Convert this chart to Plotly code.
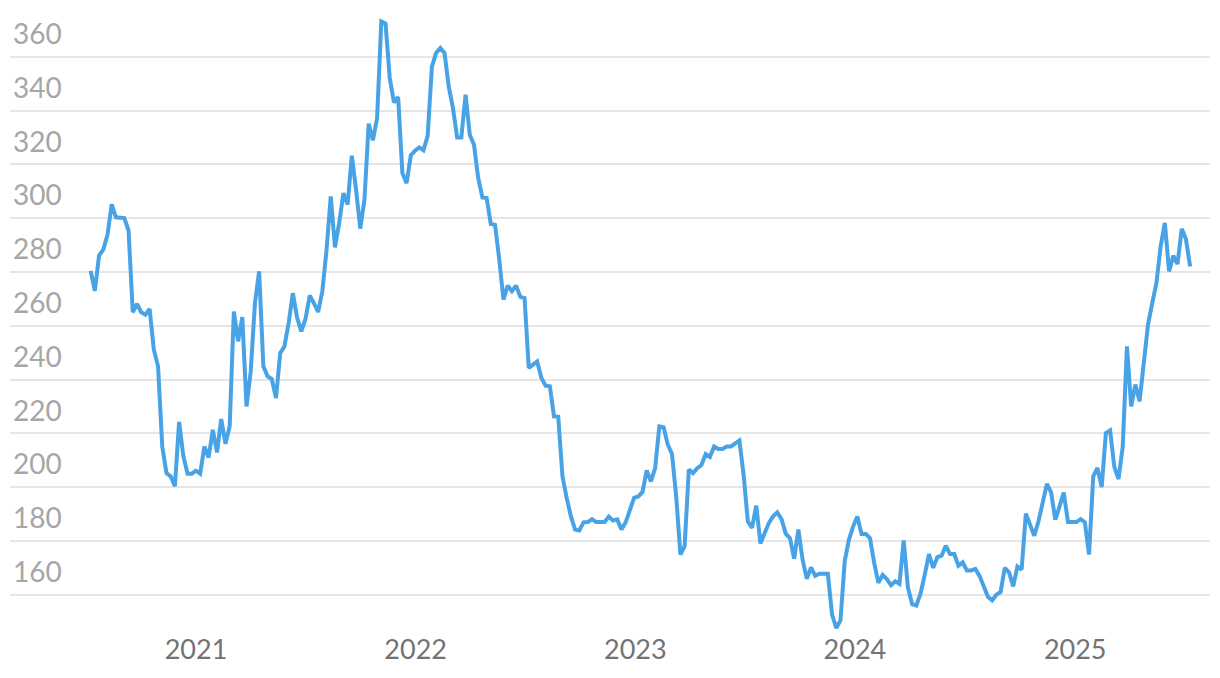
import pandas as pd
import plotly.graph_objects as go

start_date = "2020-07-10"
values = [
    280.4, 273.0, 286.1, 288.3, 293.8, 305.1, 300.3, 300.1, 300.0, 295.4,
    265.0, 268.1, 265.0, 264.1, 266.2, 251.1, 244.9, 215.1, 205.2, 204.0,
    200.3, 224.2, 211.6, 205.0, 205.0, 206.1, 205.0, 215.1, 211.0, 221.3,
    212.9, 225.3, 216.1, 222.6, 265.3, 254.2, 263.2, 230.0, 243.0, 268.4,
    280.2, 244.9, 241.2, 240.2, 233.1, 249.8, 252.3, 261.0, 272.1, 263.0,
    257.9, 262.5, 271.2, 268.4, 265.1, 272.8, 288.3, 308.1, 289.1, 298.2,
    309.3, 305.0, 323.2, 310.6, 296.1, 306.8, 335.1, 328.9, 337.2, 373.1,
    372.3, 352.1, 343.0, 345.0, 316.8, 313.0, 323.3, 325.1, 326.3, 325.2,
    330.6, 356.2, 361.4, 363.2, 361.4, 349.0, 340.9, 330.0, 330.0, 345.9,
    331.0, 327.3, 314.9, 307.7, 307.5, 297.8, 297.5, 284.5, 269.7, 274.9,
    272.8, 274.9, 270.7, 270.3, 244.3, 245.5, 246.7, 240.6, 237.7, 237.5,
    226.3, 226.1, 204.0, 196.0, 189.1, 184.2, 183.9, 186.9, 187.0, 188.1,
    187.0, 187.0, 187.0, 189.0, 187.6, 188.0, 184.2, 186.9, 191.6, 196.0,
    196.5, 198.2, 206.2, 202.1, 207.1, 222.6, 222.3, 215.8, 212.3, 196.5,
    174.9, 178.0, 206.5, 205.2, 207.0, 208.2, 212.3, 211.2, 215.1, 214.2,
    214.2, 215.1, 215.1, 216.1, 217.3, 204.6, 187.3, 184.8, 193.1, 179.0,
    182.9, 186.7, 189.1, 190.6, 188.1, 182.7, 181.0, 173.4, 184.2, 173.0,
    165.9, 170.1, 167.0, 167.8, 167.8, 167.8, 152.6, 147.6, 150.4, 172.4,
    180.4, 185.4, 189.1, 182.6, 182.6, 181.0, 171.8, 164.4, 167.4, 165.8,
    163.5, 165.0, 164.0, 180.2, 162.7, 156.5, 156.0, 160.4, 167.4, 175.1,
    170.0, 174.0, 174.5, 178.2, 175.1, 175.1, 170.8, 172.0, 169.0, 169.0,
    169.6, 167.0, 163.1, 159.2, 157.9, 160.0, 161.0, 170.0, 168.3, 163.1,
    170.5, 169.3, 190.1, 186.0, 181.9, 187.3, 194.1, 201.2, 198.0, 187.9,
    192.8, 198.0, 187.0, 187.0, 187.0, 188.1, 187.0, 174.9, 204.0, 207.1,
    200.0, 220.1, 221.1, 207.5, 203.0, 215.1, 252.3, 230.0, 238.1, 231.9,
    248.0, 260.4, 268.4, 275.9, 289.5, 298.2, 280.2, 286.0, 282.9, 296.0,
    292.2, 282.0,
]
dates = pd.date_range(start_date, periods=len(values), freq="7D")

y_ticks = [160, 180, 200, 220, 240, 260, 280, 300, 320, 340, 360]
x_ticks = ["2021-01-01", "2022-01-01", "2023-01-01", "2024-01-01", "2025-01-01"]
x_tick_labels = ["2021", "2022", "2023", "2024", "2025"]

fig = go.Figure()
fig.add_trace(go.Scatter(
    x=dates, y=values, mode="lines",
    line=dict(color="#48A2E6", width=4),
    hoverinfo="x+y", showlegend=False,
))

fig.update_layout(
    width=1220, height=678,
    margin=dict(l=2, r=18, t=3, b=55),
    paper_bgcolor="white", plot_bgcolor="white",
    font=dict(family="Lato, sans-serif"),
    xaxis=dict(
        range=["2020-02-27", "2025-08-13"],
        tickvals=x_ticks, ticktext=x_tick_labels,
        showgrid=False, zeroline=False, showline=False, ticks="",
        tickfont=dict(size=27, color="#737373"),
        automargin=False,
    ),
    yaxis=dict(
        range=[146.5, 377],
        tickvals=y_ticks,
        showgrid=True, gridcolor="#e6e6e6", gridwidth=2,
        zeroline=False, showline=False, ticks="",
        ticklabelposition="inside top",
        ticklabelshift=-3,
        tickfont=dict(size=28, color="#a6a6a6"),
        automargin=False,
    ),
)

fig.write_html("out.html")
